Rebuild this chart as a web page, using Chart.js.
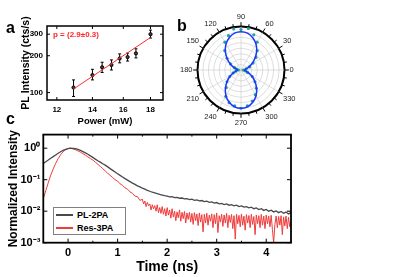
<!DOCTYPE html>
<html lang="en">
<head>
<meta charset="utf-8">
<title>PL power dependence, polarization and decay</title>
<script src="https://cdn.jsdelivr.net/npm/chart.js@4.4.1/dist/chart.umd.min.js"></script>
<style>
  html, body { margin: 0; padding: 0; background: #fff; }
  body { width: 409px; height: 277px; position: relative; overflow: hidden;
         font-family: 'Liberation Sans', Arial, sans-serif; }
  canvas { position: absolute; }
  #chartA { left: 0; top: 0; }
  #chartB { left: 176px; top: 9px; }
  #chartC { left: 0; top: 125px; }
  .panel { position: absolute; font-weight: bold; font-size: 16px; line-height: 1; }
  .fit { position: absolute; left: 53px; top: 31px; color: #ff2424; font-weight: bold;
         font-size: 8px; line-height: 1; white-space: nowrap; }
  .legend { position: absolute; left: 53px; top: 207px; width: 71px; height: 26px;
            border: 1px solid #808080; background: #fff; font-size: 9px; font-weight: bold; }
  .legend .row { position: absolute; left: 2px; height: 12px; display: flex; align-items: center; white-space: nowrap; }
  .legend .sw { display: inline-block; width: 17px; height: 2px; margin-right: 4px; }
</style>
</head>
<body>

<canvas id="chartA" width="170" height="135"></canvas>
<canvas id="chartB" width="123" height="123"></canvas>
<canvas id="chartC" width="300" height="152"></canvas>

<div class="panel" style="left:6px; top:20px;">a</div>
<div class="panel" style="left:177px; top:18px;">b</div>
<div class="panel" style="left:6px; top:111px;">c</div>
<div class="fit">p = (2.9±0.3)</div>

<div class="legend">
  <div class="row" style="top:1px"><span class="sw" style="background:#4a4a4a"></span>PL-2PA</div>
  <div class="row" style="top:14px"><span class="sw" style="background:#f03c3c"></span>Res-3PA</div>
</div>

<script>
// ---- panel a : PL intensity vs excitation power (log-log) ----
const powerMW    = [12.9, 14.0, 14.6, 15.2, 15.75, 16.3, 16.9, 18.0];
const plCounts   = [110, 139, 161, 168, 190, 195, 209, 300];
const plErrLow   = [93, 127, 146, 153, 175, 181, 192, 279];
const plErrHigh  = [127, 155, 177, 185, 207, 210, 228, 324];
const fitPower   = [12.9, 18.0];
const fitCounts  = [107, 282];
const powerTicks = [12, 14, 16, 18];
const countTicks = [100, 200, 300];

// ---- panel b : polarization (angle in degrees, normalized intensity) ----
const polAngles = [0, 10, 20, 30, 40, 50, 60, 70, 80, 90, 100, 110, 120, 130, 140, 150, 160, 170,
                   180, 190, 200, 210, 220, 230, 240, 250, 260, 270, 280, 290, 300, 310, 320, 330, 340, 350];
const polFit    = [0.08, 0.10, 0.18, 0.29, 0.42, 0.56, 0.69, 0.79, 0.86, 0.88, 0.86, 0.79, 0.69, 0.56, 0.42, 0.29, 0.18, 0.10,
                   0.08, 0.10, 0.18, 0.29, 0.42, 0.56, 0.69, 0.79, 0.86, 0.88, 0.86, 0.79, 0.69, 0.56, 0.42, 0.29, 0.18, 0.10];
const polData   = [0.05, 0.12, 0.21, 0.32, 0.45, 0.58, 0.74, 0.86, 0.97, 0.93, 0.96, 0.84, 0.74, 0.58, 0.42, 0.28, 0.16, 0.10,
                   0.06, 0.12, 0.19, 0.30, 0.42, 0.53, 0.70, 0.80, 0.84, 0.88, 0.84, 0.76, 0.66, 0.55, 0.42, 0.30, 0.16, 0.10];

// ---- panel c : normalized decay traces ----
// PL-2PA sampled every 0.05 ns from -0.5 ns
const tStart = -0.5, tStep = 0.05;
const pl2PA = [0.33, 0.37, 0.42, 0.48, 0.54, 0.61, 0.69, 0.77, 0.85, 0.92,
               0.97, 1.00, 0.99, 0.96, 0.91, 0.85, 0.78, 0.71, 0.64, 0.57,
               0.51, 0.45, 0.40, 0.36, 0.32, 0.29, 0.255, 0.225, 0.198, 0.175,
               0.155, 0.137, 0.122, 0.108, 0.097, 0.087, 0.078, 0.071, 0.064, 0.059,
               0.054, 0.050, 0.046, 0.043, 0.040, 0.038, 0.036, 0.034, 0.0325, 0.031,
               0.030, 0.0285, 0.0290, 0.0270, 0.0275, 0.0258, 0.0262, 0.0245, 0.0250, 0.0232,
               0.0240, 0.0222, 0.0228, 0.0212, 0.0218, 0.0202, 0.0208, 0.0192, 0.0198, 0.0180,
               0.0188, 0.0172, 0.0178, 0.0163, 0.0170, 0.0155, 0.0162, 0.0148, 0.0155, 0.0140,
               0.0148, 0.0135, 0.0140, 0.0128, 0.0134, 0.0120, 0.0127, 0.0113, 0.0120, 0.0106,
               0.0114, 0.0100, 0.0108, 0.0095, 0.0102, 0.0090, 0.0098, 0.0086, 0.0094, 0.0082,
               0.0090];
// Res-3PA: -0.5 .. 1.45 ns every 0.05 ns, then 1.5 .. 4.5 ns every 0.025 ns
const res3PAHead = [0.025, 0.045, 0.08, 0.14, 0.22, 0.33, 0.47, 0.62, 0.77, 0.90,
                    0.98, 0.99, 0.95, 0.89, 0.82, 0.75, 0.67, 0.60, 0.53, 0.47,
                    0.42, 0.36, 0.31, 0.265, 0.225, 0.19, 0.16, 0.137, 0.117, 0.10,
                    0.090, 0.074, 0.066, 0.055, 0.050, 0.041, 0.037, 0.030, 0.029, 0.022];
const tailStart = 1.5, tailStep = 0.025;
const res3PATail = [0.024, 0.017, 0.021, 0.014, 0.019, 0.015, 0.017, 0.011, 0.016, 0.012,
                    0.015, 0.010, 0.016, 0.009, 0.013, 0.0085, 0.014, 0.008, 0.012, 0.007,
                    0.013, 0.0075, 0.011, 0.006, 0.012, 0.0065, 0.010, 0.005, 0.0095, 0.0062,
                    0.011, 0.0048, 0.0092, 0.0058, 0.0098, 0.0042, 0.0088, 0.0055, 0.0092, 0.0045,
                    0.0085, 0.0038, 0.0090, 0.0050, 0.0082, 0.0035, 0.0088, 0.0045, 0.0078, 0.0022,
                    0.0080, 0.0042, 0.0086, 0.0036, 0.0075, 0.0048, 0.0082, 0.0030, 0.0078, 0.0040,
                    0.0088, 0.0021, 0.0072, 0.0045, 0.0080, 0.0033, 0.0076, 0.0042, 0.0085, 0.0030,
                    0.0074, 0.0044, 0.0079, 0.0028, 0.0072, 0.0013, 0.0080, 0.0040, 0.0074, 0.0032,
                    0.0082, 0.0036, 0.0070, 0.0025, 0.0078, 0.0042, 0.0073, 0.0030, 0.0080, 0.0038,
                    0.0068, 0.0018, 0.0076, 0.0040, 0.0072, 0.0030, 0.0079, 0.0036, 0.0070, 0.0028,
                    0.0076, 0.0040, 0.0070, 0.0032, 0.0074, 0.0026, 0.0010, 0.0038, 0.0070, 0.0030,
                    0.0068, 0.0036, 0.0072, 0.0018, 0.0066, 0.0034, 0.0070, 0.0028, 0.0064, 0.0032,
                    0.0046];
const timeTicks   = [0, 1, 2, 3, 4];
const timeMinor   = [-0.5, 0.5, 1.5, 2.5, 3.5, 4.5];
const decadeTicks = [0.001, 0.01, 0.1, 1];
const decadeText  = { 1: '10⁰', 0.1: '10⁻¹', 0.01: '10⁻²', 0.001: '10⁻³' };

Chart.defaults.font.family = "'Liberation Sans', Arial, sans-serif";
Chart.defaults.color = '#000';
Chart.defaults.animation = false;

// box around the plot area with inward ticks on all four sides
const framePlugin = {
  id: 'frame',
  afterDatasetsDraw(chart, args, opts) {
    const { ctx, chartArea: a, scales: { x, y } } = chart;
    const L = opts.len || 4;
    const tick = (px, py, dx, dy) => {
      ctx.beginPath(); ctx.moveTo(px, py); ctx.lineTo(px + dx, py + dy); ctx.stroke();
    };
    ctx.save();
    ctx.strokeStyle = '#000';
    ctx.lineWidth = opts.width || 1.5;
    ctx.strokeRect(a.left, a.top, a.right - a.left, a.bottom - a.top);
    ctx.lineWidth = 1;
    x.ticks.forEach(t => {
      const px = x.getPixelForValue(t.value);
      tick(px, a.bottom, 0, -L); tick(px, a.top, 0, L);
    });
    (opts.xMinor || []).forEach(v => {
      const px = x.getPixelForValue(v);
      tick(px, a.bottom, 0, -L / 2); tick(px, a.top, 0, L / 2);
    });
    y.ticks.forEach(t => {
      const py = y.getPixelForValue(t.value);
      tick(a.left, py, L, 0); tick(a.right, py, -L, 0);
    });
    ctx.restore();
  }
};

// vertical error bars for panel a
const errorBars = {
  id: 'errorBars',
  beforeDatasetsDraw(chart) {
    const { ctx, scales: { x, y } } = chart;
    ctx.save();
    ctx.strokeStyle = '#000';
    ctx.lineWidth = 1;
    powerMW.forEach((p, i) => {
      const px = x.getPixelForValue(p);
      const y1 = y.getPixelForValue(plErrLow[i]);
      const y2 = y.getPixelForValue(plErrHigh[i]);
      ctx.beginPath();
      ctx.moveTo(px, y1); ctx.lineTo(px, y2);
      ctx.moveTo(px - 1.5, y1); ctx.lineTo(px + 1.5, y1);
      ctx.moveTo(px - 1.5, y2); ctx.lineTo(px + 1.5, y2);
      ctx.stroke();
    });
    ctx.restore();
  }
};

// dial ticks on the outside of the polar ring
const ringTicks = {
  id: 'ringTicks',
  afterDraw(chart) {
    const { ctx } = chart;
    const s = chart.scales.r;
    ctx.save();
    ctx.strokeStyle = '#000';
    ctx.lineWidth = 1;
    chart.data.labels.forEach((l, i) => {
      const p1 = s.getPointPositionForValue(i, 1);
      const p2 = s.getPointPositionForValue(i, i % 3 === 0 ? 1.1 : 1.07);
      ctx.beginPath(); ctx.moveTo(p1.x, p1.y); ctx.lineTo(p2.x, p2.y); ctx.stroke();
    });
    ctx.restore();
  }
};

// ---- chart a ----
new Chart(document.getElementById('chartA'), {
  type: 'scatter',
  data: {
    datasets: [
      {
        data: fitPower.map((p, i) => ({ x: p, y: fitCounts[i] })),
        showLine: true, borderColor: '#ff2a2a', borderWidth: 1, pointRadius: 0
      },
      {
        data: powerMW.map((p, i) => ({ x: p, y: plCounts[i] })),
        pointRadius: 1.6, pointBorderColor: '#000', pointBackgroundColor: '#444', pointBorderWidth: 1
      }
    ]
  },
  options: {
    responsive: false,
    layout: { padding: { left: 0, right: 7, top: 26, bottom: 0 } },
    plugins: { legend: { display: false }, tooltip: { enabled: false }, frame: { width: 1.5, len: 3 } },
    scales: {
      x: {
        type: 'logarithmic', min: 11.5, max: 19,
        afterBuildTicks: s => { s.ticks = powerTicks.map(v => ({ value: v })); },
        afterFit: s => { s.height = 35; },
        grid: { display: false, drawTicks: false }, border: { display: false },
        ticks: { font: { size: 8, weight: 'bold' }, padding: 5, maxRotation: 0, autoSkip: false,
                 callback: v => String(v) },
        title: { display: true, text: 'Power (mW)', font: { size: 9.5, weight: 'bold' },
                 padding: { top: 0, bottom: 8 } }
      },
      y: {
        type: 'logarithmic', min: 87, max: 350,
        afterBuildTicks: s => { s.ticks = countTicks.map(v => ({ value: v })); },
        afterFit: s => { s.width = 47; },
        grid: { display: false, drawTicks: false }, border: { display: false },
        ticks: { font: { size: 8, weight: 'bold' }, padding: 4, autoSkip: false,
                 callback: v => String(v) },
        title: { display: true, text: 'PL Intensity (cts/s)', font: { size: 10.5, weight: 'bold' },
                 padding: { top: 20, bottom: 0 } }
      }
    }
  },
  plugins: [errorBars, framePlugin]
});

// ---- chart b (radar turned into a polar plot: 0° at right, counter-clockwise) ----
const order = polAngles.map((a, i) => (polAngles.length - i) % polAngles.length);
const radarLabels = order.map(k => (polAngles[k] % 30 === 0 ? String(polAngles[k]) : ''));

new Chart(document.getElementById('chartB'), {
  type: 'radar',
  data: {
    labels: radarLabels,
    datasets: [
      { data: order.map(k => polFit[k]), borderColor: '#1f35ff', borderWidth: 1.5,
        pointRadius: 0, fill: false, tension: 0.35 },
      { data: order.map(k => polData[k]), showLine: false, fill: false, pointRadius: 1.6,
        pointBackgroundColor: '#1fa39a', pointBorderWidth: 0 }
    ]
  },
  options: {
    responsive: false,
    plugins: { legend: { display: false }, tooltip: { enabled: false } },
    scales: {
      r: {
        min: 0, max: 1, startAngle: 90,
        ticks: { display: false, stepSize: 0.125 },
        grid: { circular: true,
                color: c => (c.tick.value === 1 ? '#000' : '#c8c8c8'),
                lineWidth: c => (c.tick.value === 1 ? 2 : 0.6) },
        angleLines: { color: '#c8c8c8', lineWidth: c => (c.label !== '' ? 0.6 : 0) },
        pointLabels: { font: { size: 7.5 }, padding: 5, color: '#222' }
      }
    }
  },
  plugins: [ringTicks]
});

// ---- chart c ----
const res3PAPoints = res3PAHead.map((v, i) => ({ x: tStart + i * tStep, y: v }))
  .concat(res3PATail.map((v, i) => ({ x: tailStart + i * tailStep, y: v })));

new Chart(document.getElementById('chartC'), {
  type: 'line',
  data: {
    datasets: [
      { label: 'PL-2PA', data: pl2PA.map((v, i) => ({ x: tStart + i * tStep, y: v })),
        borderColor: '#4a4a4a', borderWidth: 1.3, pointRadius: 0, tension: 0 },
      { label: 'Res-3PA', data: res3PAPoints, borderColor: '#f03c3c', borderWidth: 1,
        pointRadius: 0, tension: 0 }
    ]
  },
  options: {
    responsive: false,
    layout: { padding: { left: 0, right: 9, top: 5, bottom: 0 } },
    plugins: { legend: { display: false }, tooltip: { enabled: false },
               frame: { width: 1.8, len: 4, xMinor: timeMinor } },
    scales: {
      x: {
        type: 'linear', min: -0.5, max: 4.5,
        afterBuildTicks: s => { s.ticks = timeTicks.map(v => ({ value: v })); },
        afterFit: s => { s.height = 34.3; },
        grid: { display: false, drawTicks: false }, border: { display: false },
        ticks: { font: { size: 11, weight: 'bold' }, padding: 4, maxRotation: 0, autoSkip: false },
        title: { display: true, text: 'Time (ns)', font: { size: 14, weight: 'bold' },
                 padding: { top: 0, bottom: 1 } }
      },
      y: {
        type: 'logarithmic', min: 0.001, max: 2.7,
        afterBuildTicks: s => { s.ticks = decadeTicks.map(v => ({ value: v })); },
        afterFit: s => { s.width = 43.3; },
        grid: { display: false, drawTicks: false }, border: { display: false },
        ticks: { font: { size: 11, weight: 'bold' }, padding: 3, autoSkip: false,
                 callback: v => decadeText[v] },
        title: { display: true, text: 'Normalized Intensity', font: { size: 12, weight: 'bold' },
                 padding: { top: 6, bottom: 0 } }
      }
    }
  },
  plugins: [framePlugin]
});
</script>
</body>
</html>
